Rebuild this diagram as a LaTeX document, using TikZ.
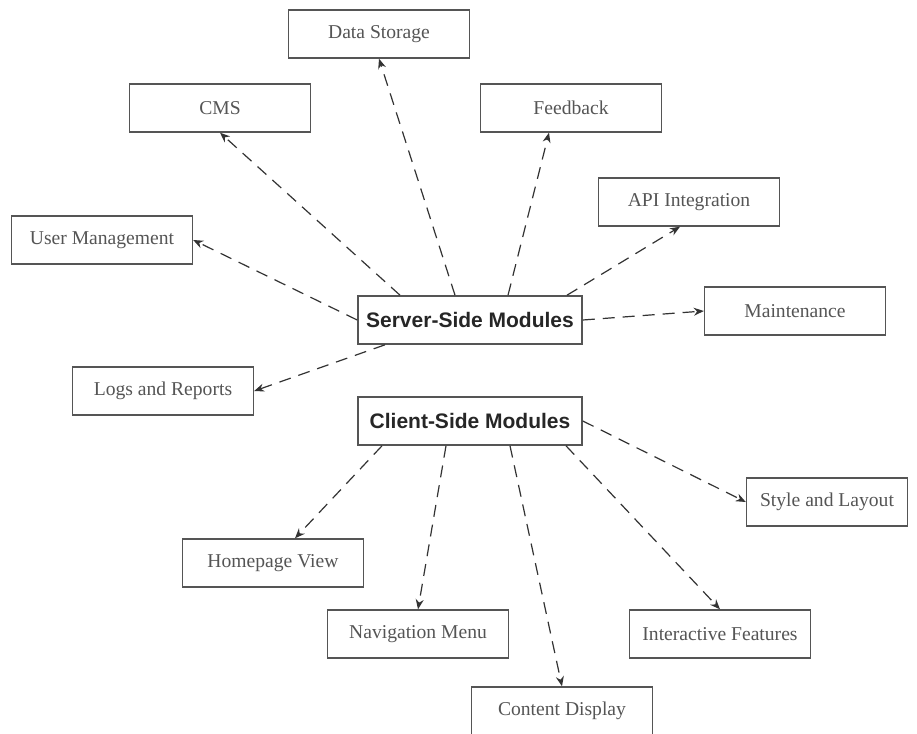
\documentclass[tikz,border=0pt]{standalone}
\usepackage{fontspec}
\setmainfont{Liberation Serif}
\newfontfamily\hubfont{Liberation Sans}
\usetikzlibrary{arrows.meta}
\definecolor{boxgray}{HTML}{555555}
\definecolor{labelgray}{HTML}{555555}
\definecolor{linegray}{HTML}{333333}

\begin{document}
\begin{tikzpicture}[x=1pt,y=-1pt,
  leaf/.style={draw=boxgray,line width=1.4pt,minimum width=181pt,minimum height=48pt,inner sep=0pt,text=labelgray,font=\fontsize{19.6}{22}\selectfont},
  hub/.style={draw=boxgray,line width=1.6pt,minimum width=224pt,minimum height=48pt,inner sep=0pt,text=black!85,font=\hubfont\bfseries\fontsize{21}{24}\selectfont},
  link/.style={draw=linegray,line width=1.2pt,dash pattern=on 12pt off 8pt,-{Stealth[length=10pt,width=8pt]}}]
\fill[white] (0,0) rectangle (917,733);
\useasboundingbox (0,0) rectangle (917,733);

\node[leaf] (ds) at (379,34) {Data Storage};
\node[leaf] (cms) at (220,108) {CMS};
\node[leaf] (fb) at (571,108) {Feedback};
\node[leaf] (api) at (689,202) {API Integration};
\node[leaf] (um) at (102,240) {User Management};
\node[hub] (srv) at (470,320) {Server-Side Modules};
\node[leaf] (mnt) at (795,311) {Maintenance};
\node[leaf] (logs) at (163,391) {Logs and Reports};
\node[hub] (cli) at (470,421) {Client-Side Modules};
\node[leaf,minimum width=161pt] (style) at (827,502) {Style and Layout};
\node[leaf] (home) at (273,563) {Homepage View};
\node[leaf] (nav) at (418,634) {Navigation Menu};
\node[leaf] (inter) at (720,634) {Interactive Features};
\node[leaf] (content) at (562,711) {Content Display};

\draw[link] ([xshift=-15pt]srv.north) -- (ds.south);
\draw[link] ([xshift=-70pt]srv.north) -- (cms.south);
\draw[link] ([xshift=38pt]srv.north) -- ([xshift=-22pt]fb.south);
\draw[link] ([xshift=97pt]srv.north) -- ([xshift=-9pt]api.south);
\draw[link] (srv.west) -- (um.east);
\draw[link] (srv.east) -- (mnt.west);
\draw[link] ([xshift=-85pt]srv.south) -- (logs.east);

\draw[link] ([xshift=-88pt]cli.south) -- ([xshift=22pt]home.north);
\draw[link] ([xshift=-24pt]cli.south) -- (nav.north);
\draw[link] ([xshift=40pt]cli.south) -- (content.north);
\draw[link] ([xshift=96pt]cli.south) -- (inter.north);
\draw[link] (cli.east) -- (style.west);
\end{tikzpicture}
\end{document}
